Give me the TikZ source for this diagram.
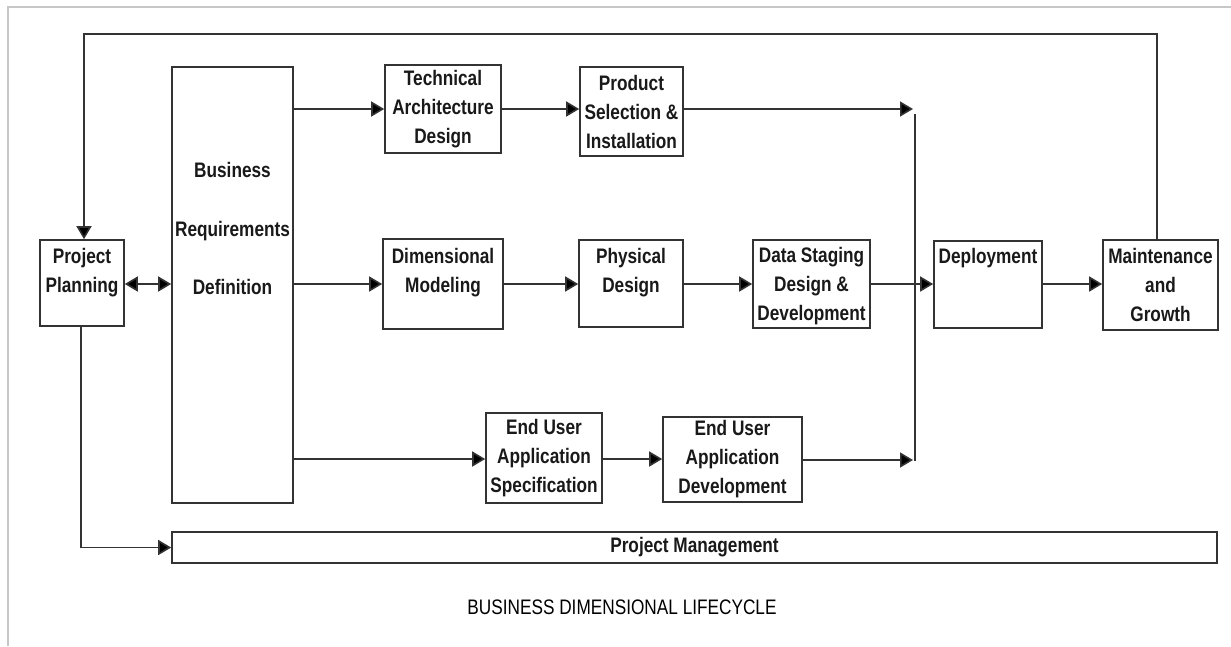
\documentclass[tikz,border=0pt]{standalone}
\usepackage{fontspec}
\setmainfont{Liberation Sans}[FakeStretch=0.82]
\usetikzlibrary{arrows.meta}
\begin{document}
\begin{tikzpicture}[x=1pt,y=-1pt,
  box/.style={draw=black!80, line width=1.6pt, rectangle, inner sep=0pt, fill=white},
  txt/.style={font=\fontsize{21}{29}\selectfont\bfseries, align=center, inner sep=0pt, text=black!90},
  arr/.style={draw=black!80, line width=1.6pt, -{Triangle[length=13pt,width=15pt,fill=black]}},
  dbl/.style={draw=black!80, line width=1.6pt, {Triangle[length=13pt,width=15pt,fill=black]}-{Triangle[length=13pt,width=15pt,fill=black]}},
  ln/.style={draw=black!80, line width=1.6pt},
  frame/.style={draw=black!22, line width=1.5pt}]
\useasboundingbox (0,0) rectangle (1231,646);
% light frame
\coordinate (f1) at (8,646);
\coordinate (f2) at (8,7);
\coordinate (f3) at (1231,7);
\draw[frame] (f1) -- (f2) -- (f3);

% boxes
\node[box, minimum width=84pt, minimum height=86pt] (pp) at (82,283) {};
\node[txt, anchor=north] (ppt) at (82,248) {Project\\Planning};

\node[box, minimum width=121pt, minimum height=436pt] (brd) at (232.5,285) {};
\node[txt, font=\fontsize{21}{58.5}\selectfont\bfseries] (brdt) at (232.5,228.5) {Business\\Requirements\\Definition};

\node[box, txt, minimum width=116pt, minimum height=88pt] (tad) at (443,109) {Technical\\Architecture\\Design};
\node[box, txt, minimum width=103pt, minimum height=89pt] (psi) at (631.5,111.5) {Product\\Selection \&\\Installation};

\node[box, minimum width=120pt, minimum height=90pt] (dm) at (443,284) {};
\node[txt, anchor=north] (dmt) at (443,248) {Dimensional\\Modeling};

\node[box, minimum width=104pt, minimum height=87pt] (pd) at (631,283.5) {};
\node[txt, anchor=north] (pdt) at (631,248) {Physical\\Design};

\node[box, minimum width=117pt, minimum height=88pt] (ds) at (811.5,284) {};
\node[txt, anchor=north] (dst) at (811.5,247) {Data Staging\\Design \&\\Development};

\node[box, minimum width=108pt, minimum height=87pt] (dep) at (988,284.5) {};
\node[txt, anchor=north] (dept) at (988,248) {Deployment};

\node[box, minimum width=115pt, minimum height=90pt] (mg) at (1160.5,285) {};
\node[txt, anchor=north] (mgt) at (1160.5,248) {Maintenance\\and\\Growth};

\node[box, txt, minimum width=116pt, minimum height=90pt] (euas) at (544,458) {End User\\Application\\Specification};
\node[box, txt, minimum width=139pt, minimum height=85pt] (euad) at (732.5,459.5) {End User\\Application\\Development};

\node[box, txt, minimum width=1045pt, minimum height=31pt] (pm) at (694.5,547.5) {Project Management};

\node[txt, font=\fontsize{21}{25}\selectfont, text=black] (title) at (622,607) {BUSINESS DIMENSIONAL LIFECYCLE};

% junction coordinates
\coordinate (jt) at (913,109);
\coordinate (jb) at (913,460);
\coordinate (vt) at (915,114);
\coordinate (vb) at (915,461);
\coordinate (fbA) at (1157,34);
\coordinate (fbB) at (84,34);
\coordinate (pmA) at (81,547.5);

% top row
\draw[arr] (brd.east |- tad.west) -- (tad.west);
\draw[arr] (tad.east) -- (tad.east -| psi.west);
\draw[arr] (psi.east |- jt) -- (jt);
\draw[ln] (vt) -- (vb);

% middle row
\draw[dbl] (pp.east |- 0,284) -- (brd.west |- 0,284);
\draw[arr] (brd.east |- 0,284) -- (dm.west |- 0,284);
\draw[arr] (dm.east |- 0,284) -- (pd.west |- 0,284);
\draw[arr] (pd.east |- 0,284) -- (ds.west |- 0,284);
\draw[arr] (ds.east |- 0,284) -- (dep.west |- 0,284);
\draw[arr] (dep.east |- 0,284) -- (mg.west |- 0,284);

% bottom row
\draw[arr] (brd.east |- 0,459) -- (euas.west |- 0,459);
\draw[arr] (euas.east |- 0,459) -- (euad.west |- 0,459);
\draw[arr] (euad.east |- jb) -- (jb);

% feedback loop
\draw[arr] (mg.north -| fbA) -- (fbA) -- (fbB) -- (pp.north -| fbB);
% project management
\draw[arr] (pp.south -| pmA) -- (pmA) -- (pm.west);
\end{tikzpicture}
\end{document}
